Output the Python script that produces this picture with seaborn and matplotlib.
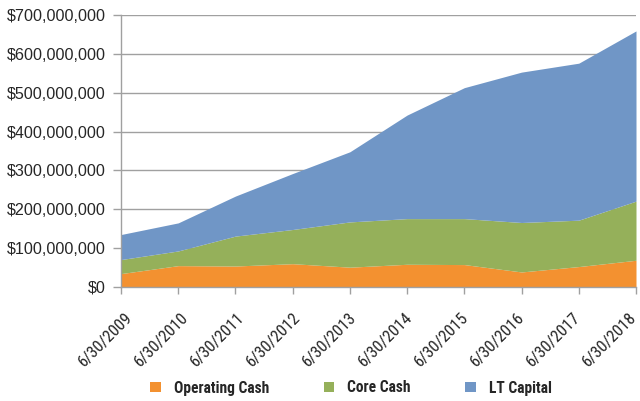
import matplotlib
matplotlib.use("Agg")
import matplotlib.pyplot as plt
import matplotlib.ticker as mticker
import matplotlib.transforms as mtransforms
from matplotlib import font_manager as fm
from matplotlib.patches import Patch
import seaborn as sns
import numpy as np
import pandas as pd

dates = ["6/30/2009", "6/30/2010", "6/30/2011", "6/30/2012", "6/30/2013",
         "6/30/2014", "6/30/2015", "6/30/2016", "6/30/2017", "6/30/2018"]
operating_cash = [34.5, 55, 54, 60, 51, 58.5, 57.7, 38.7, 52.6, 68.8]
core_cash = [36.1, 37.8, 77, 88, 116.5, 117.5, 118.3, 127.3, 119.4, 152.2]
lt_capital = [64.4, 72.2, 103, 144, 180.5, 266.5, 337, 387, 404, 438]
series_names = ["Operating Cash", "Core Cash", "LT Capital"]
colors = ["#F39130", "#95B05A", "#7096C6"]

df = pd.DataFrame({"date": dates,
                   "Operating Cash": np.array(operating_cash) * 1e6,
                   "Core Cash": np.array(core_cash) * 1e6,
                   "LT Capital": np.array(lt_capital) * 1e6})

sns.set_theme(style="white")
plt.rcParams["font.family"] = ["Liberation Sans", "DejaVu Sans"]

# pick a narrow font if one is installed
names = {f.name for f in fm.fontManager.ttflist}
narrow_family = None
narrow_stretch = "normal"
for cand in ["Liberation Sans Narrow", "Arial Narrow", "Roboto Condensed", "Open Sans Condensed"]:
    if cand in names:
        narrow_family = cand
        break
if narrow_family is None:
    cond = [f for f in fm.fontManager.ttflist
            if f.name == "DejaVu Sans" and str(f.stretch) in ("condensed", "semi-condensed", "75", "87")]
    if cond:
        narrow_family = "DejaVu Sans"
        narrow_stretch = "condensed"
if narrow_family is None:
    narrow_family = "Liberation Sans"
    xt_size, leg_size = 11.5, 9.5
else:
    xt_size, leg_size = 12, 11.2

fig = plt.figure(figsize=(6.4, 4.01), dpi=100)
ax = fig.add_axes([121 / 640, 1 - 287 / 401, (636 - 121) / 640, (287 - 15) / 401])

x = np.arange(len(dates))
ax.stackplot(x, [df[n] for n in series_names], colors=colors, linewidth=0, zorder=2)

ax.set_xlim(0, len(dates) - 1)
ax.set_ylim(0, 700e6)
ax.yaxis.set_major_locator(mticker.MultipleLocator(100e6))
ax.yaxis.set_major_formatter(mticker.FuncFormatter(lambda v, p: f"${v:,.0f}"))
ax.grid(axis="y", color="#A0A0A0", linewidth=1.0, zorder=1)
ax.set_axisbelow(True)

for s in ["top", "right"]:
    ax.spines[s].set_visible(False)
for s in ["left", "bottom"]:
    ax.spines[s].set_color("#A0A0A0")
    ax.spines[s].set_linewidth(1.0)
    ax.spines[s].set_zorder(3)

ax.set_xticks(x)
ax.set_xticklabels(dates, rotation=45, ha="right", va="center", rotation_mode="anchor",
                   fontsize=xt_size, family=[narrow_family, "Liberation Sans"],
                   fontstretch=narrow_stretch, color="#262626")
ax.tick_params(axis="x", direction="out", length=5, width=1, color="#A0A0A0", pad=15, bottom=True)
ax.tick_params(axis="y", direction="out", length=6, width=1, color="#A0A0A0", pad=5, left=True,
               labelsize=11.6, labelcolor="#262626")

# Excel spreads rotated labels slightly: nudge each label to the right
n = len(dates)
for i, lab in enumerate(ax.get_xticklabels()):
    dx = (9.5 - 11.5 * i / (n - 1)) / 100.0
    lab.set_transform(lab.get_transform() + mtransforms.ScaledTranslation(dx, 0, fig.dpi_scale_trans))

handles = [Patch(facecolor=c, edgecolor="none") for c in colors]
leg = fig.legend(handles, series_names, loc="center", bbox_to_anchor=(351 / 640, 1 - 388 / 401),
                 ncol=3, frameon=False, handlelength=0.69, handleheight=0.69,
                 handletextpad=0.83, columnspacing=3.5,
                 prop={"family": [narrow_family, "Liberation Sans"], "weight": "bold",
                       "size": leg_size, "stretch": narrow_stretch})
for t in leg.get_texts():
    t.set_color("#262626")

fig.savefig("out.png", dpi=100)
